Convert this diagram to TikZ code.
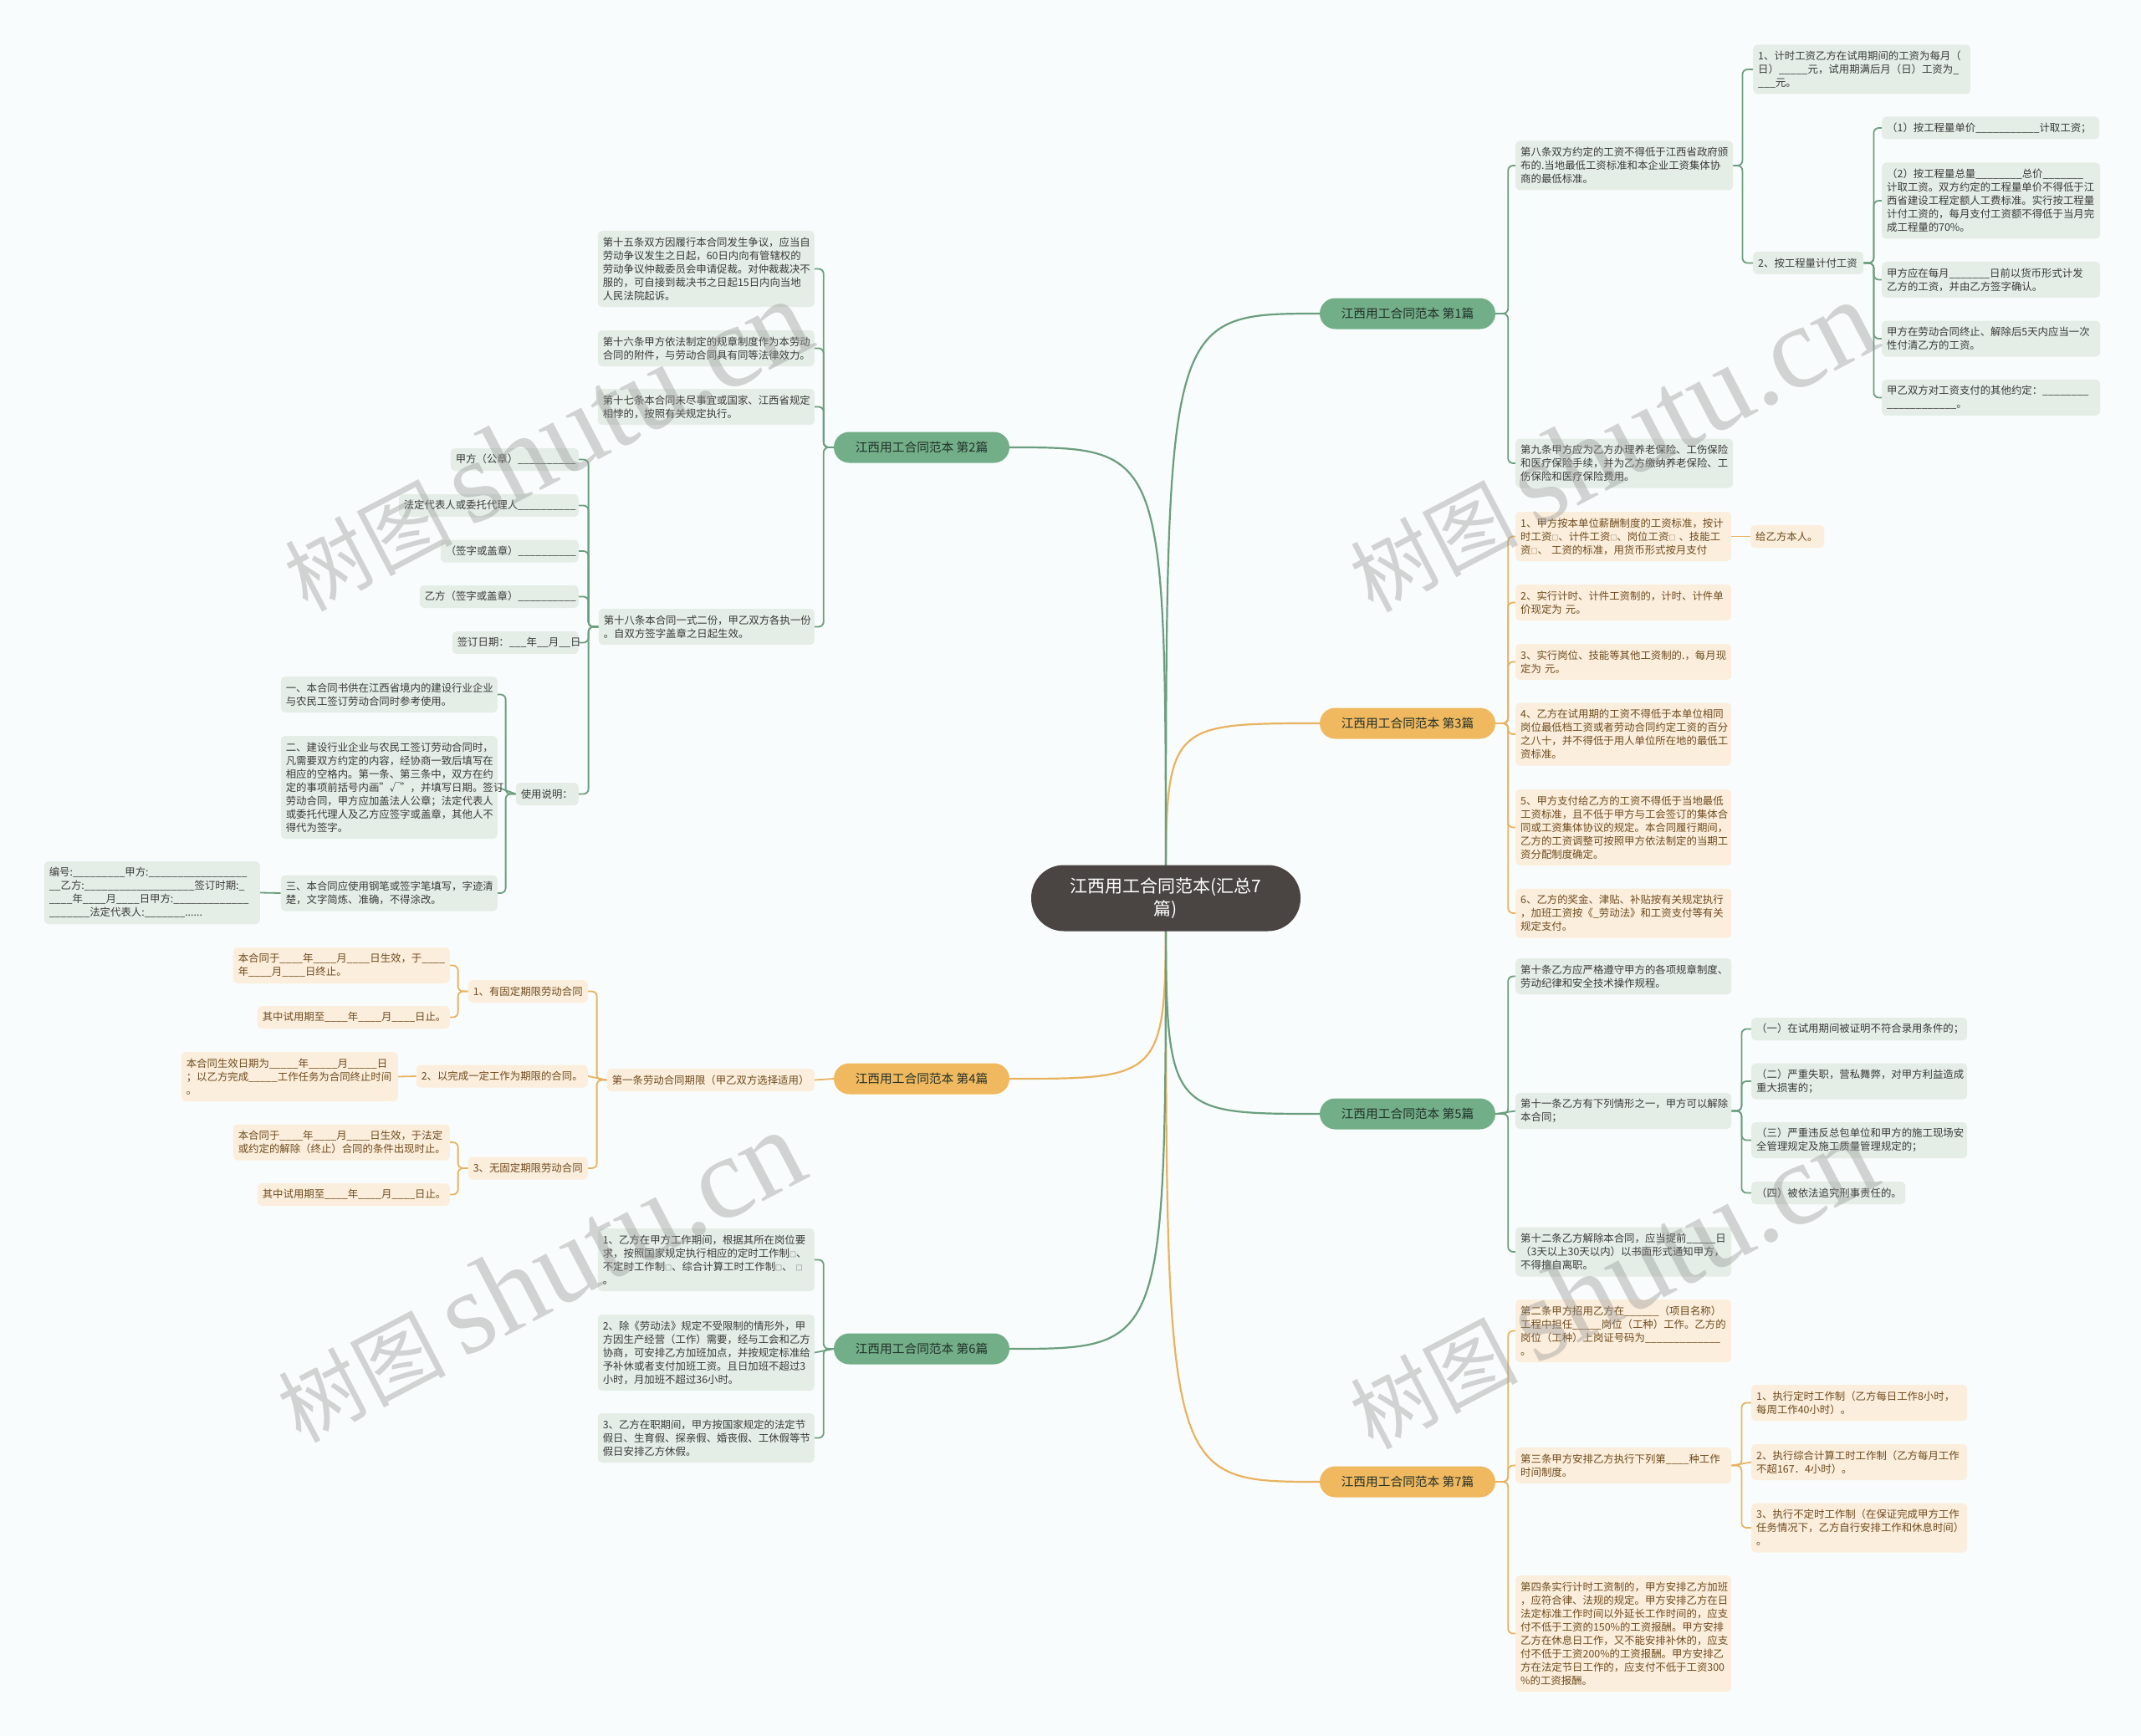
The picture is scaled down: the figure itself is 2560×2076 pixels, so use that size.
\documentclass[tikz,border=0pt]{standalone}
\usepackage{fontspec}
\setmainfont{Noto Sans CJK SC}
\newfontfamily\wmserif{Liberation Serif}
\usetikzlibrary{backgrounds}
\definecolor{bgc}{HTML}{F9FCFC}
\definecolor{gline}{HTML}{6A9E7E}
\definecolor{oline}{HTML}{E8B35F}
\definecolor{gcatf}{HTML}{72AE88}
\definecolor{ocatf}{HTML}{F0B95F}
\definecolor{gleaf}{HTML}{E4EEE7}
\definecolor{oleaf}{HTML}{FCEEDC}
\definecolor{gtxt}{HTML}{3A3A3A}
\definecolor{otxt}{HTML}{6E4B1E}
\definecolor{cattxt}{HTML}{22302A}
\definecolor{rootf}{HTML}{4A4443}
\definecolor{wmc}{HTML}{969696}
\newcommand\us[1]{\foreach\ui in {1,...,#1}{\_}}
\newcommand\bx{{\fontsize{8}{8}\selectfont □}}
\newcommand\leaffont{\fontsize{12.4}{16}\selectfont}
\newcommand\wmtext{{\fontsize{100}{100}\selectfont 树图}\hspace{20pt}{\wmserif\fontsize{140}{140}\selectfont shutu.cn}}
\begin{document}
\begin{tikzpicture}[x=1pt,y=-1pt,
  leaf/.style={rounded corners=5pt, align=left, inner xsep=6pt, inner ysep=2pt, font=\leaffont, minimum height={#1*16+11}, text width=248pt},
  gl/.style={leaf=#1, fill=gleaf, text=gtxt},
  ol/.style={leaf=#1, fill=oleaf, text=otxt},
  cat/.style={rounded corners=18.5pt, minimum width=210pt, minimum height=37pt, inner sep=0pt, font=\fontsize{14.7}{18}\selectfont, text=cattxt},
  gcat/.style={cat, fill=gcatf},
  ocat/.style={cat, fill=ocatf},
  rootnode/.style={fill=rootf, text=white, rounded corners=39pt, minimum width=322pt, minimum height=79pt, inner sep=0pt, align=center, font=\fontsize{21}{27}\selectfont},
  gmain/.style={draw=gline, line width=2.2pt},
  omain/.style={draw=oline, line width=2.2pt},
  gedge/.style={draw=gline, line width=1.8pt, rounded corners=6pt},
  oedge/.style={draw=oline, line width=1.8pt, rounded corners=6pt},
  rb/.style={to path={-- ++(#1,0) |- (\tikztotarget)}},
  lb/.style={to path={-- ++(-#1,0) |- (\tikztotarget)}},
  wm/.style={rotate=27.6, text=wmc, opacity=0.4, inner sep=0pt}
]
\useasboundingbox (0,0) rectangle (2560,2076);

% root and categories
\node[rootnode] (root) at (1394,1074) {江西用工合同范本(汇总7\\篇)};
\node[gcat] (c1) at (1683,375) {江西用工合同范本 第1篇};
\node[ocat] (c3) at (1683,865) {江西用工合同范本 第3篇};
\node[gcat] (c5) at (1683,1332) {江西用工合同范本 第5篇};
\node[ocat] (c7) at (1683,1772) {江西用工合同范本 第7篇};
\node[gcat] (c2) at (1102,535) {江西用工合同范本 第2篇};
\node[ocat] (c4) at (1102,1290) {江西用工合同范本 第4篇};
\node[gcat] (c6) at (1102,1613) {江西用工合同范本 第6篇};

% category 1
\node[gl=3, anchor=west] (n1a) at (1812,198) {第八条双方约定的工资不得低于江西省政府颁\\布的.当地最低工资标准和本企业工资集体协\\商的最低标准。};
\node[gl=3, anchor=west] (n1b) at (1812,554) {第九条甲方应为乙方办理养老保险、工伤保险\\和医疗保险手续，并为乙方缴纳养老保险、工\\伤保险和医疗保险费用。};
\node[gl=3, anchor=west] (n1a1) at (2096,83) {1、计时工资乙方在试用期间的工资为每月（\\日）\us{5}元，试用期满后月（日）工资为\us{1}\\\us{3}元。};
\node[gl=1, anchor=west, text width=120pt] (n1a2) at (2096,314.5) {2、按工程量计付工资};
\node[gl=1, anchor=west] (n1a2a) at (2250,153) {（1）按工程量单价\us{11}计取工资；};
\node[gl=5, anchor=west, text width=249pt] (n1a2b) at (2250,240) {（2）按工程量总量\us{8}总价\us{7}\\计取工资。双方约定的工程量单价不得低于江\\西省建设工程定额人工费标准。实行按工程量\\计付工资的，每月支付工资额不得低于当月完\\成工程量的70\%。};
\node[gl=2, anchor=west, text width=249pt] (n1a2c) at (2250,334.5) {甲方应在每月\us{7}日前以货币形式计发\\乙方的工资，并由乙方签字确认。};
\node[gl=2, anchor=west, text width=249pt] (n1a2d) at (2250,405) {甲方在劳动合同终止、解除后5天内应当一次\\性付清乙方的工资。};
\node[gl=2, anchor=west, text width=249pt] (n1a2e) at (2250,475.5) {甲乙双方对工资支付的其他约定：\us{8}\\\us{12}。};

% category 3
\node[ol=3, anchor=west, text width=246pt] (n3a) at (1812,641.5) {1、甲方按本单位薪酬制度的工资标准，按计\\时工资\bx、计件工资\bx、岗位工资\bx~、技能工\\资\bx、~工资的标准，用货币形式按月支付};
\node[ol=1, anchor=west, text width=76pt] (n3a1) at (2093,641.5) {给乙方本人。};
\node[ol=2, anchor=west, text width=246pt] (n3b) at (1812,720.5) {2、实行计时、计件工资制的，计时、计件单\\价现定为 元。};
\node[ol=2, anchor=west, text width=246pt] (n3c) at (1812,791.5) {3、实行岗位、技能等其他工资制的.，每月现\\定为 元。};
\node[ol=4, anchor=west, text width=246pt] (n3d) at (1812,878) {4、乙方在试用期的工资不得低于本单位相同\\岗位最低档工资或者劳动合同约定工资的百分\\之八十，并不得低于用人单位所在地的最低工\\资标准。};
\node[ol=5, anchor=west, text width=246pt] (n3e) at (1812,989.5) {5、甲方支付给乙方的工资不得低于当地最低\\工资标准，且不低于甲方与工会签订的集体合\\同或工资集体协议的规定。本合同履行期间，\\乙方的工资调整可按照甲方依法制定的当期工\\资分配制度确定。};
\node[ol=3, anchor=west, text width=246pt] (n3f) at (1812,1092) {6、乙方的奖金、津贴、补贴按有关规定执行\\，加班工资按《\_劳动法》和工资支付等有关\\规定支付。};

% category 5
\node[gl=2, anchor=west, text width=246pt] (n5a) at (1812,1167.5) {第十条乙方应严格遵守甲方的各项规章制度、\\劳动纪律和安全技术操作规程。};
\node[gl=2, anchor=west, text width=246pt] (n5b) at (1812,1328.5) {第十一条乙方有下列情形之一，甲方可以解除\\本合同；};
\node[gl=3, anchor=west, text width=246pt] (n5c) at (1812,1497) {第十二条乙方解除本合同，应当提前\us{5}日\\（3天以上30天以内）以书面形式通知甲方，\\不得擅自离职。};
\node[gl=1, anchor=west, text width=246pt] (n5b1) at (2094,1230.5) {（一）在试用期间被证明不符合录用条件的；};
\node[gl=2, anchor=west, text width=246pt] (n5b2) at (2094,1293) {（二）严重失职，营私舞弊，对甲方利益造成\\重大损害的；};
\node[gl=2, anchor=west, text width=246pt] (n5b3) at (2094,1363.5) {（三）严重违反总包单位和甲方的施工现场安\\全管理规定及施工质量管理规定的；};
\node[gl=1, anchor=west, text width=172pt] (n5b4) at (2094,1426.5) {（四）被依法追究刑事责任的。};

% category 7
\node[ol=4, anchor=west, text width=246pt] (n7a) at (1812,1591.5) {第二条甲方招用乙方在\us{6}（项目名称）\\工程中担任\us{5}岗位（工种）工作。乙方的\\岗位（工种）上岗证号码为\us{13}\\。};
\node[ol=2, anchor=west, text width=246pt] (n7b) at (1812,1752.5) {第三条甲方安排乙方执行下列第\us{4}种工作\\时间制度。};
\node[ol=8, anchor=west, text width=246pt] (n7c) at (1812,1953.5) {第四条实行计时工资制的，甲方安排乙方加班\\，应符合律、法规的规定。甲方安排乙方在日\\法定标准工作时间以外延长工作时间的，应支\\付不低于工资的150\%的工资报酬。甲方安排\\乙方在休息日工作，又不能安排补休的，应支\\付不低于工资200\%的工资报酬。甲方安排乙\\方在法定节日工作的，应支付不低于工资300\\\%的工资报酬。};
\node[ol=2, anchor=west, text width=246pt] (n7b1) at (2094,1677.5) {1、执行定时工作制（乙方每日工作8小时，\\每周工作40小时）。};
\node[ol=2, anchor=west, text width=246pt] (n7b2) at (2094,1748.5) {2、执行综合计算工时工作制（乙方每月工作\\不超167．4小时）。};
\node[ol=3, anchor=west, text width=246pt] (n7b3) at (2094,1827) {3、执行不定时工作制（在保证完成甲方工作\\任务情况下，乙方自行安排工作和休息时间）\\。};

% category 2
\node[gl=5, anchor=east, text width=247pt] (n2a) at (974,321.5) {第十五条双方因履行本合同发生争议，应当自\\劳动争议发生之日起，60日内向有管辖权的\\劳动争议仲裁委员会申请促裁。对仲裁裁决不\\服的，可自接到裁决书之日起15日内向当地\\人民法院起诉。};
\node[gl=2, anchor=east, text width=247pt] (n2b) at (974,416.5) {第十六条甲方依法制定的规章制度作为本劳动\\合同的附件，与劳动合同具有同等法律效力。};
\node[gl=2, anchor=east, text width=247pt] (n2c) at (974,486.5) {第十七条本合同未尽事宜或国家、江西省规定\\相悖的，按照有关规定执行。};
\node[gl=2, anchor=east, text width=246pt] (n2d) at (974,749.5) {第十八条本合同一式二份，甲乙双方各执一份\\。自双方签字盖章之日起生效。};
\node[gl=1, anchor=east, text width=141pt] (n2d1) at (692,549.5) {甲方（公章）\us{10}};
\node[gl=1, anchor=east, text width=203pt] (n2d2) at (692,604.5) {法定代表人或委托代理人\us{10}};
\node[gl=1, anchor=east, text width=153pt] (n2d3) at (692,659) {（签字或盖章）\us{10}};
\node[gl=1, anchor=east, text width=178pt] (n2d4) at (692,713.5) {乙方（签字或盖章）\us{10}};
\node[gl=1, anchor=east, text width=139pt] (n2d5) at (692,768.5) {签订日期：\us{3}年\us{2}月\us{2}日};
\node[gl=1, anchor=east, text width=63pt] (n2d6) at (692,949.5) {使用说明：};
\node[gl=2, anchor=east, text width=247pt] (n2d6a) at (595,830.5) {一、本合同书供在江西省境内的建设行业企业\\与农民工签订劳动合同时参考使用。};
\node[gl=7, anchor=east, text width=247pt] (n2d6b) at (595,941.5) {二、建设行业企业与农民工签订劳动合同时，\\凡需要双方约定的内容，经协商一致后填写在\\相应的空格内。第一条、第三条中，双方在约\\定的事项前括号内画"√"，并填写日期。签订\\劳动合同，甲方应加盖法人公章；法定代表人\\或委托代理人及乙方应签字或盖章，其他人不\\得代为签字。};
\node[gl=2, anchor=east, text width=247pt] (n2d6c) at (595,1068) {三、本合同应使用钢笔或签字笔填写，字迹清\\楚，文字简炼、准确，不得涂改。};
\node[gl=4, anchor=east, text width=246pt] (n2d6c1) at (311,1067.5) {编号:\us{9}甲方:\us{17}\\\us{2}乙方:\us{19}签订时期:\us{1}\\\us{4}年\us{4}月\us{4}日甲方:\us{13}\\\us{7}法定代表人:\us{7}......};

% category 4
\node[ol=1, anchor=east, text width=236pt] (n4a) at (974,1291.5) {第一条劳动合同期限（甲乙双方选择适用）};
\node[ol=1, anchor=east, text width=131pt] (n4a1) at (703,1185.5) {1、有固定期限劳动合同};
\node[ol=2, anchor=east, text width=247pt] (n4a1a) at (538,1154.5) {本合同于\us{4}年\us{4}月\us{4}日生效，于\us{4}\\年\us{4}月\us{4}日终止。};
\node[ol=1, anchor=east, text width=218pt] (n4a1b) at (538,1216.5) {其中试用期至\us{4}年\us{4}月\us{4}日止。};
\node[ol=1, anchor=east, text width=193pt] (n4a2) at (703,1287) {2、以完成一定工作为期限的合同。};
\node[ol=3, anchor=east, text width=247pt] (n4a2a) at (476,1287.5) {本合同生效日期为\us{5}年\us{5}月\us{5}日\\；以乙方完成\us{5}工作任务为合同终止时间\\。};
\node[ol=1, anchor=east, text width=131pt] (n4a3) at (703,1397) {3、无固定期限劳动合同};
\node[ol=2, anchor=east, text width=247pt] (n4a3a) at (538,1366) {本合同于\us{4}年\us{4}月\us{4}日生效，于法定\\或约定的解除（终止）合同的条件出现时止。};
\node[ol=1, anchor=east, text width=218pt] (n4a3b) at (538,1428.5) {其中试用期至\us{4}年\us{4}月\us{4}日止。};

% category 6
\node[gl=4, anchor=east, text width=247pt] (n6a) at (974,1506.5) {1、乙方在甲方工作期间，根据其所在岗位要\\求，按照国家规定执行相应的定时工作制\bx、\\不定时工作制\bx、综合计算工时工作制\bx、~\bx\\。};
\node[gl=5, anchor=east, text width=247pt] (n6b) at (974,1617.5) {2、除《劳动法》规定不受限制的情形外，甲\\方因生产经营（工作）需要，经与工会和乙方\\协商，可安排乙方加班加点，并按规定标准给\\予补休或者支付加班工资。且日加班不超过3\\小时，月加班不超过36小时。};
\node[gl=3, anchor=east, text width=247pt] (n6c) at (974,1719.5) {3、乙方在职期间，甲方按国家规定的法定节\\假日、生育假、探亲假、婚丧假、工休假等节\\假日安排乙方休假。};

\begin{scope}[on background layer]
\fill[bgc] (0,0) rectangle (2560,2076);
% root to categories
\draw[gmain] (root.center) .. controls (root.center |- c1.west) and (root.center |- c1.west) .. (c1.west);
\draw[omain] (root.center) .. controls (root.center |- c3.west) and (root.center |- c3.west) .. (c3.west);
\draw[gmain] (root.center) .. controls (root.center |- c5.west) and (root.center |- c5.west) .. (c5.west);
\draw[omain] (root.center) .. controls (root.center |- c7.west) and (root.center |- c7.west) .. (c7.west);
\draw[gmain] (root.center) .. controls (root.center |- c2.east) and (root.center |- c2.east) .. (c2.east);
\draw[omain] (root.center) .. controls (root.center |- c4.east) and (root.center |- c4.east) .. (c4.east);
\draw[gmain] (root.center) .. controls (root.center |- c6.east) and (root.center |- c6.east) .. (c6.east);
% cat 1
\draw[gedge] (c1.east) to[rb=15] (n1a.west);
\draw[gedge] (c1.east) to[rb=15] (n1b.west);
\draw[gedge] (n1a.east) to[rb=11] (n1a1.west);
\draw[gedge] (n1a.east) to[rb=11] (n1a2.west);
\draw[gedge] (n1a2.east) to[rb=12] (n1a2a.west);
\draw[gedge] (n1a2.east) to[rb=12] (n1a2b.west);
\draw[gedge] (n1a2.east) to[rb=12] (n1a2c.west);
\draw[gedge] (n1a2.east) to[rb=12] (n1a2d.west);
\draw[gedge] (n1a2.east) to[rb=12] (n1a2e.west);
% cat 3
\draw[oedge] (c3.east) to[rb=15] (n3a.west);
\draw[oedge] (c3.east) to[rb=15] (n3b.west);
\draw[oedge] (c3.east) to[rb=15] (n3c.west);
\draw[oedge] (c3.east) to[rb=15] (n3d.west);
\draw[oedge] (c3.east) to[rb=15] (n3e.west);
\draw[oedge] (c3.east) to[rb=15] (n3f.west);
\draw[oedge] (n3a.east) -- (n3a1.west);
% cat 5
\draw[gedge] (c5.east) to[rb=15] (n5a.west);
\draw[gedge] (c5.east) -- (n5b.west);
\draw[gedge] (c5.east) to[rb=15] (n5c.west);
\draw[gedge] (n5b.east) to[rb=12] (n5b1.west);
\draw[gedge] (n5b.east) to[rb=12] (n5b2.west);
\draw[gedge] (n5b.east) to[rb=12] (n5b3.west);
\draw[gedge] (n5b.east) to[rb=12] (n5b4.west);
% cat 7
\draw[oedge] (c7.east) to[rb=15] (n7a.west);
\draw[oedge] (c7.east) to[rb=15] (n7b.west);
\draw[oedge] (c7.east) to[rb=15] (n7c.west);
\draw[oedge] (n7b.east) to[rb=12] (n7b1.west);
\draw[oedge] (n7b.east) -- (n7b2.west);
\draw[oedge] (n7b.east) to[rb=12] (n7b3.west);
% cat 2
\draw[gedge] (c2.west) to[lb=12] (n2a.east);
\draw[gedge] (c2.west) to[lb=12] (n2b.east);
\draw[gedge] (c2.west) to[lb=12] (n2c.east);
\draw[gedge] (c2.west) to[lb=12] (n2d.east);
\draw[gedge] (n2d.west) to[lb=12] (n2d1.east);
\draw[gedge] (n2d.west) to[lb=12] (n2d2.east);
\draw[gedge] (n2d.west) to[lb=12] (n2d3.east);
\draw[gedge] (n2d.west) to[lb=12] (n2d4.east);
\draw[gedge] (n2d.west) to[lb=12] (n2d5.east);
\draw[gedge] (n2d.west) to[lb=12] (n2d6.east);
\draw[gedge] (n2d6.west) to[lb=12] (n2d6a.east);
\draw[gedge] (n2d6.west) -- (n2d6b.east);
\draw[gedge] (n2d6.west) to[lb=12] (n2d6c.east);
\draw[gedge] (n2d6c.west) -- (n2d6c1.east);
% cat 4
\draw[oedge] (c4.west) -- (n4a.east);
\draw[oedge] (n4a.west) to[lb=12] (n4a1.east);
\draw[oedge] (n4a.west) -- (n4a2.east);
\draw[oedge] (n4a.west) to[lb=12] (n4a3.east);
\draw[oedge] (n4a1.west) to[lb=12] (n4a1a.east);
\draw[oedge] (n4a1.west) to[lb=12] (n4a1b.east);
\draw[oedge] (n4a2.west) -- (n4a2a.east);
\draw[oedge] (n4a3.west) to[lb=12] (n4a3a.east);
\draw[oedge] (n4a3.west) to[lb=12] (n4a3b.east);
% cat 6
\draw[gedge] (c6.west) to[lb=12] (n6a.east);
\draw[gedge] (c6.west) -- (n6b.east);
\draw[gedge] (c6.west) to[lb=12] (n6c.east);
\end{scope}

% watermarks
\node[wm] (wm1) at (653,533) {\wmtext};
\node[wm] (wm2) at (1927,534) {\wmtext};
\node[wm] (wm3) at (645,1527) {\wmtext};
\node[wm] (wm4) at (1927,1535) {\wmtext};
\end{tikzpicture}
\end{document}
